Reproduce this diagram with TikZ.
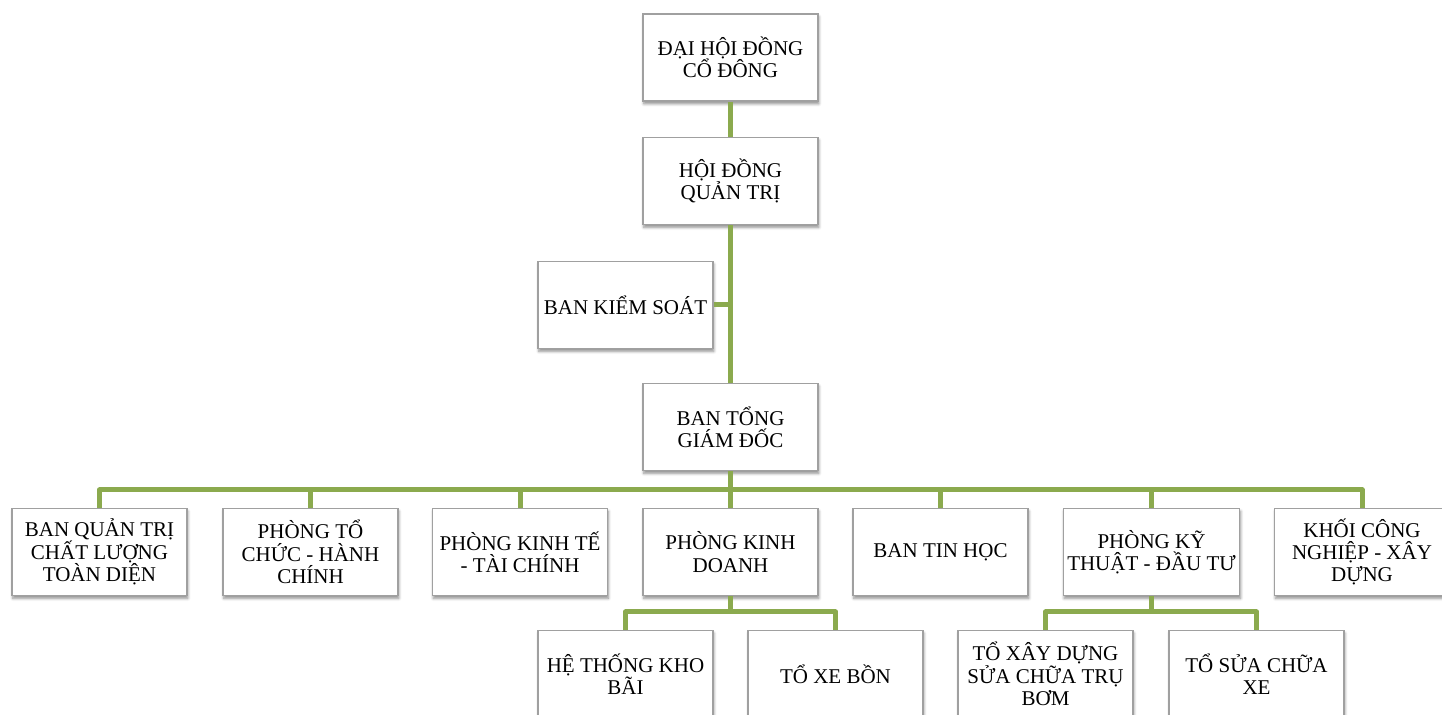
\documentclass[tikz,border=0pt]{standalone}
\usepackage{fontspec}
\setmainfont{Liberation Serif}
\usetikzlibrary{shadows.blur}
\definecolor{OliveLine}{HTML}{8BAA4E}
\definecolor{BoxGray}{HTML}{A0A0A0}

\begin{document}
\begin{tikzpicture}[x=0.5pt, y=-0.5pt,
    unit/.style={draw=BoxGray, fill=white, line width=0.6pt,
        minimum width=87.5pt, minimum height=43.5pt, inner sep=2pt,
        align=center, font=\fontsize{10.5}{11.2}\selectfont,
        blur shadow={shadow xshift=0.4pt, shadow yshift=-1.4pt,
            shadow blur radius=1.4pt, shadow blur steps=6, shadow opacity=45}},
    link/.style={OliveLine, line width=2.5pt, line join=round}]
    \clip (0,0) rectangle (1442,715);

    % Board levels
    \node[unit] (dhcd) at (730.5,57.5) {ĐẠI HỘI ĐỒNG\\CỔ ĐÔNG};
    \node[unit] (hdqt) at (730.5,181) {HỘI ĐỒNG\\QUẢN TRỊ};
    \node[unit] (bks) at (625.5,305) {BAN KIỂM SOÁT};
    \node[unit] (tgd) at (730.5,427) {BAN TỔNG\\GIÁM ĐỐC};

    % Departments
    \node[unit] (qtcl) at (99.5,552) {BAN QUẢN TRỊ\\CHẤT LƯỢNG\\TOÀN DIỆN};
    \node[unit] (tchc) at (310.5,552) {PHÒNG TỔ\\CHỨC - HÀNH\\CHÍNH};
    \node[unit] (ktc) at (520,552) {PHÒNG KINH TẾ\\- TÀI CHÍNH};
    \node[unit] (kd) at (730.5,552) {PHÒNG KINH\\DOANH};
    \node[unit] (th) at (940.5,552) {BAN TIN HỌC};
    \node[unit] (ktdt) at (1151.5,552) {PHÒNG KỸ\\THUẬT - ĐẦU TƯ};
    \node[unit] (cnxd) at (1362,552) {KHỐI CÔNG\\NGHIỆP - XÂY\\DỰNG};

    % Teams
    \node[unit] (htkb) at (625.5,674) {HỆ THỐNG KHO\\BÃI};
    \node[unit] (txb) at (835.5,674) {TỔ XE BỒN};
    \node[unit] (xdsc) at (1045.5,674) {TỔ XÂY DỰNG\\SỬA CHỮA TRỤ\\BƠM};
    \node[unit] (scx) at (1256.5,674) {TỔ SỬA CHỮA\\XE};

    % Links
    \draw[link] (dhcd) -- (hdqt);
    \draw[link] (hdqt) -- (tgd);
    \draw[link] (bks.east) -- (bks.east -| hdqt.south);
    \coordinate (bus) at (730.5,490);
    \draw[link] (tgd) -- (bus);
    \foreach \n in {qtcl,tchc,ktc,kd,th,ktdt,cnxd}
        \draw[link] (bus) -| (\n.north);
    \coordinate (kdbus) at (730.5,612);
    \draw[link] (kd) -- (kdbus);
    \foreach \n in {htkb,txb}
        \draw[link] (kdbus) -| (\n.north);
    \coordinate (ktbus) at (1151.5,612);
    \draw[link] (ktdt) -- (ktbus);
    \foreach \n in {xdsc,scx}
        \draw[link] (ktbus) -| (\n.north);
\end{tikzpicture}
\end{document}
